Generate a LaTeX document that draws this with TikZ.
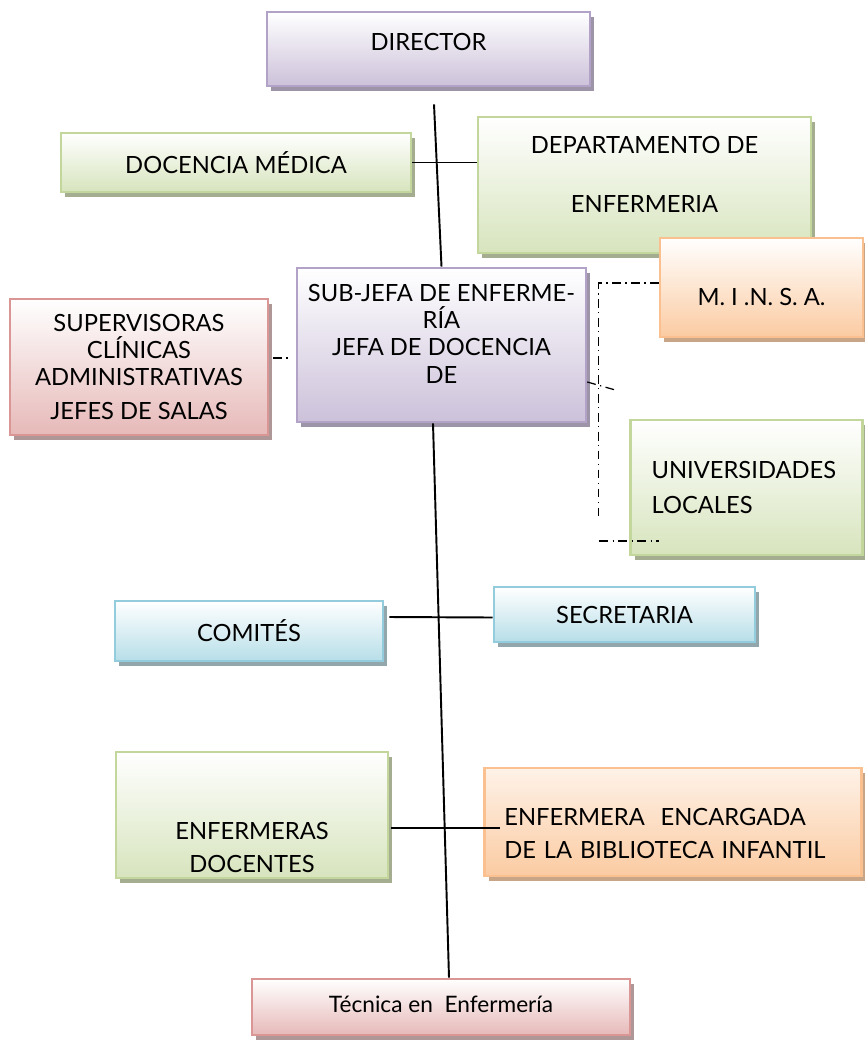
\documentclass[tikz,border=0pt]{standalone}
\usepackage{fontspec}
\setmainfont{Lato}
\usetikzlibrary{positioning,shadows}
\definecolor{lilaBorde}{HTML}{B3A2C7}
\definecolor{lilaFondo}{HTML}{CCC1DA}
\definecolor{lilaSombra}{HTML}{9D94A8}
\definecolor{verdeBorde}{HTML}{C3D69B}
\definecolor{verdeFondo}{HTML}{D7E4BD}
\definecolor{verdeSombra}{HTML}{A4AD90}
\definecolor{naranjaBorde}{HTML}{FAC090}
\definecolor{naranjaFondo}{HTML}{FBCBA2}
\definecolor{naranjaSombra}{HTML}{C9A588}
\definecolor{rojoBorde}{HTML}{D99694}
\definecolor{rojoFondo}{HTML}{E6B9B8}
\definecolor{rojoSombra}{HTML}{B09797}
\definecolor{azulBorde}{HTML}{93CDDD}
\definecolor{azulFondo}{HTML}{B7DEE8}
\definecolor{azulSombra}{HTML}{93A6AB}
\newcommand{\padbelow}[1]{\rule[-#1]{0pt}{0pt}}
\newcommand{\padabove}[1]{\rule{0pt}{#1}}
\tikzset{
  box/.style={rectangle,line width=1.5pt,align=center,inner sep=2pt,
              font=\fontsize{13.5}{15.5}\selectfont},
  lilabox/.style={box,draw=lilaBorde,top color=white,bottom color=lilaFondo,
              drop shadow={shadow xshift=2.3pt,shadow yshift=-2.6pt,fill=lilaSombra,opacity=1}},
  verdebox/.style={box,draw=verdeBorde,top color=white,bottom color=verdeFondo,
              drop shadow={shadow xshift=2.3pt,shadow yshift=-2.6pt,fill=verdeSombra,opacity=1}},
  naranjabox/.style={box,draw=naranjaBorde,top color=naranjaFondo!25,bottom color=naranjaFondo,
              drop shadow={shadow xshift=2.3pt,shadow yshift=-2.6pt,fill=naranjaSombra,opacity=1}},
  rojobox/.style={box,draw=rojoBorde,top color=white,bottom color=rojoFondo,
              drop shadow={shadow xshift=2.3pt,shadow yshift=-2.6pt,fill=rojoSombra,opacity=1}},
  azulbox/.style={box,draw=azulBorde,top color=white,bottom color=azulFondo,
              drop shadow={shadow xshift=2.3pt,shadow yshift=-2.6pt,fill=azulSombra,opacity=1}},
  link/.style={line width=1.1pt},
  dotlink/.style={line width=0.7pt,dash pattern=on 5pt off 2.5pt on 0.8pt off 2.5pt},
}
\begin{document}
\begin{tikzpicture}[x=0.02cm,y=-0.02cm]
\useasboundingbox (0,0) rectangle (865,1042);
\node[lilabox,minimum width=6.46cm,minimum height=1.48cm] at (428.5,49) (director)
    {DIRECTOR\padbelow{8pt}};
\node[verdebox,minimum width=7cm,minimum height=1.18cm] at (236,162.5) (docmed)
    {DOCENCIA MÉDICA};
\node[verdebox,minimum width=6.66cm,minimum height=2.72cm] at (644.5,185) (depto)
    {DEPARTAMENTO DE\\[18pt] ENFERMERIA\padbelow{12pt}};
\node[naranjabox,top color=white,minimum width=4.06cm,minimum height=1.98cm] at (761.5,287.5) (minsa)
    {\padabove{20.5pt}M. I .N. S. A.};
\node[lilabox,minimum width=5.78cm,minimum height=3.08cm] at (441.5,345) (subjefa)
    {SUB-JEFA DE ENFERME-\\RÍA\\JEFA DE DOCENCIA\\DE\padbelow{13pt}};
\node[rojobox,minimum width=5.16cm,minimum height=2.72cm] at (139,367) (superv)
    {SUPERVISORAS\\CLÍNICAS\\ADMINISTRATIVAS\\[4pt]JEFES DE SALAS};
\node[verdebox,align=left,inner xsep=11.9pt,text width=108pt,minimum height=2.7cm] at (746.5,487.5) (univ)
    {UNIVERSIDADES\\[4pt]LOCALES};
\node[azulbox,minimum width=5.36cm,minimum height=1.2cm] at (249,631) (comites)
    {COMITÉS};
\node[azulbox,minimum width=5.22cm,minimum height=1.1cm] at (624.5,614.5) (secret)
    {SECRETARIA};
\node[verdebox,minimum width=5.44cm,minimum height=2.52cm] at (252,815) (enfdoc)
    {\padabove{46.5pt}ENFERMERAS\\[3pt]DOCENTES};
\node[naranjabox,align=left,inner xsep=11.3pt,text width=192pt,minimum height=2.16cm] at (673,822) (biblio)
    {\padabove{22.7pt}ENFERMERA\ \ ENCARGADA\\[3pt]DE LA BIBLIOTECA INFANTIL};
\node[rojobox,font=\fontsize{12.9}{15}\selectfont,minimum width=7.56cm,minimum height=1.12cm] at (441,1007) (tecnica)
    {Técnica en\ \ Enfermería\padbelow{3pt}};
\draw[link] ([shift={(5.5,17)}]director.south) -- (subjefa.north);
\draw[link] ([shift={(-8.5,0)}]subjefa.south) -- ([shift={(8,0)}]tecnica.north);
\draw[link] (docmed.east) -- (depto.west |- docmed.east);
\draw[link] ([shift={(5,-14)}]comites.east) -- ([shift={(0,3)}]secret.west);
\draw[link] ([shift={(2,13)}]enfdoc.east) -- ([shift={(17,6)}]biblio.west);
\draw[dotlink] ([shift={(4,-9)}]superv.east) -- ([shift={(-5,13)}]subjefa.west);
\draw[dotlink] ([shift={(0,37)}]subjefa.east) -- ++(28,8);
\draw[dotlink] ([shift={(0,-4.5)}]minsa.west) -- ++(-60,0) -- ++(0,237);
\draw[dotlink] ([shift={(-30,53.5)}]univ.west) -- ++(60,0);
\end{tikzpicture}
\end{document}
